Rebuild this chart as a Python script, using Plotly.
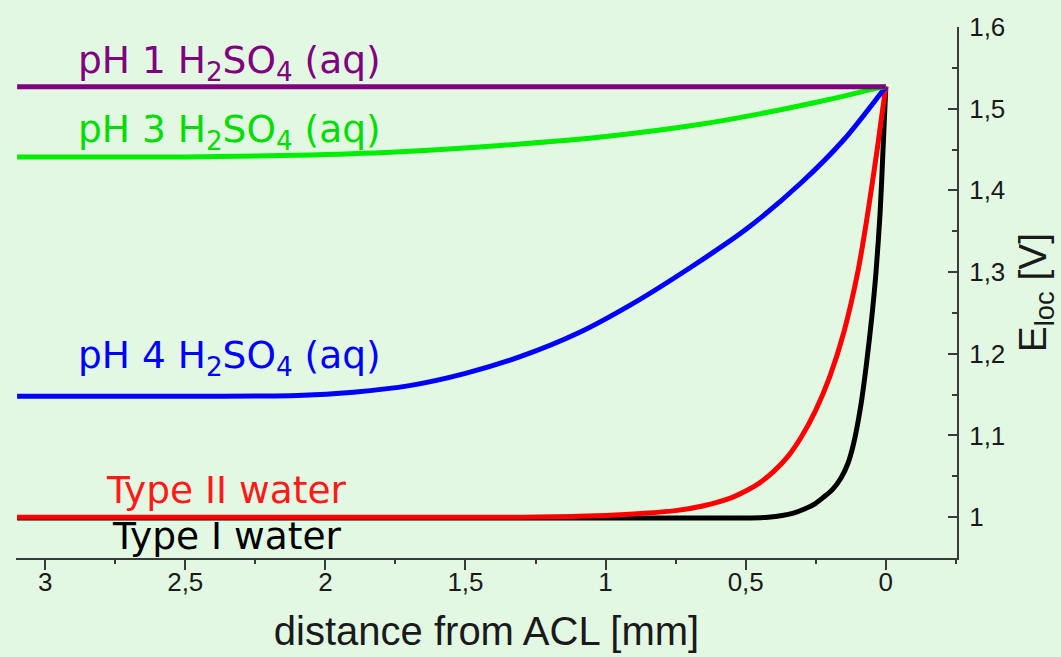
import plotly.graph_objects as go

# ---- data ----
ph1_x = [3.1, 2.0, 1.0, 0.0]
ph1_y = [1.527, 1.527, 1.527, 1.527]

ph3_x = [3.1, 2.5, 2.1, 1.75, 1.375, 1.0, 0.661, 0.446, 0.207, 0.057, 0.0]
ph3_y = [1.441, 1.441, 1.443, 1.447, 1.455, 1.466, 1.481, 1.494, 1.511, 1.523, 1.527]

ph4_x = [3.1, 2.5, 2.1, 1.9, 1.7, 1.5, 1.3, 1.1, 0.9, 0.7, 0.5, 0.3, 0.15, 0.0]
ph4_y = [1.148, 1.148, 1.149, 1.153, 1.161, 1.176, 1.197, 1.225, 1.262, 1.305, 1.352, 1.410, 1.462, 1.527]

t2_x = [3.1, 2.0, 1.3, 1.1, 0.9, 0.75, 0.65, 0.55, 0.5, 0.45, 0.4, 0.35, 0.3, 0.25,
        0.2, 0.15, 0.1, 0.07, 0.05, 0.03, 0.015, 0.0]
t2_y = [1.0, 1.0, 1.0, 1.001, 1.004, 1.008, 1.014, 1.024, 1.032, 1.042, 1.056, 1.074, 1.099, 1.131,
        1.172, 1.226, 1.300, 1.360, 1.405, 1.452, 1.490, 1.527]

t1_x = [3.1, 1.0, 0.5, 0.42, 0.37, 0.33, 0.29, 0.25, 0.22, 0.19, 0.16, 0.135, 0.115, 0.09, 0.07, 0.05,
        0.035, 0.02, 0.01, 0.0]
t1_y = [0.999, 0.999, 0.999, 1.0, 1.002, 1.005, 1.010, 1.017, 1.025, 1.034, 1.048, 1.066, 1.090, 1.135, 1.185, 1.245,
        1.300, 1.375, 1.450, 1.527]

series = [
    ("Type I water", t1_x, t1_y, "#000000"),
    ("Type II water", t2_x, t2_y, "#ff0000"),
    ("pH 4 H<sub>2</sub>SO<sub>4</sub> (aq)", ph4_x, ph4_y, "#0000ff"),
    ("pH 3 H<sub>2</sub>SO<sub>4</sub> (aq)", ph3_x, ph3_y, "#00ee00"),
    ("pH 1 H<sub>2</sub>SO<sub>4</sub> (aq)", ph1_x, ph1_y, "#800080"),
]

labels = [
    ("pH 1 H<sub>2</sub>SO<sub>4</sub> (aq)", "#800080", 0.064, 0.933),
    ("pH 3 H<sub>2</sub>SO<sub>4</sub> (aq)", "#00dd00", 0.064, 0.803),
    ("pH 4 H<sub>2</sub>SO<sub>4</sub> (aq)", "#0000ff", 0.064, 0.377),
    ("Type II water", "#ff1a1a", 0.093, 0.128),
    ("Type I water", "#000000", 0.100, 0.041),
]

fig = go.Figure()
for name, xs, ys, col in series:
    fig.add_trace(go.Scatter(x=xs, y=ys, mode="lines", name=name,
                             line=dict(color=col, width=5, shape="spline", smoothing=0.8),
                             showlegend=False))

for txt, col, lx, ly in labels:
    fig.add_annotation(text=txt, xref="paper", yref="paper", x=lx, y=ly,
                       xanchor="left", yanchor="middle", showarrow=False,
                       font=dict(family="DejaVu Sans", size=37.5, color=col))

bg = "#e2f8e2"
axcol = "#3a3a3a"
fig.update_layout(
    width=1061, height=657,
    margin=dict(l=16, r=104, t=27, b=99, autoexpand=False),
    paper_bgcolor=bg, plot_bgcolor=bg,
    separators=", ",
    font=dict(family="Liberation Sans, Arial", color="#1a1a1a"),
)
fig.update_xaxes(
    range=[3.104, -0.254], autorange=False, automargin=False,
    showgrid=False, zeroline=False,
    showline=True, linecolor=axcol, linewidth=2,
    ticks="outside", ticklen=10, tickwidth=2, tickcolor=axcol,
    dtick=0.5, tick0=0, ticklabelstandoff=-10,
    minor=dict(ticks="outside", ticklen=4, tickwidth=2, tickcolor=axcol, dtick=0.25),
    tickfont=dict(size=26, color="#1a1a1a"),
    title=dict(text="distance from ACL [mm]", font=dict(size=40, color="#1a1a1a"), standoff=21),
)
fig.update_yaxes(
    range=[0.95, 1.6], autorange=False, side="right", automargin=False,
    showgrid=False, zeroline=False,
    showline=True, linecolor=axcol, linewidth=2,
    ticks="inside", ticklen=9, tickwidth=2, tickcolor=axcol,
    dtick=0.1, tick0=1.0, ticklabelstandoff=5,
    minor=dict(ticks="inside", ticklen=5, tickwidth=2, tickcolor=axcol, dtick=0.05),
    tickfont=dict(size=26, color="#1a1a1a"),
    title=dict(text="E<sub>loc</sub> [V]", font=dict(size=39, color="#1a1a1a"), standoff=14),
)

fig.write_html("out.html", config={"displayModeBar": False},
               post_script="document.body.style.margin='0';document.body.style.background='#e2f8e2';")
